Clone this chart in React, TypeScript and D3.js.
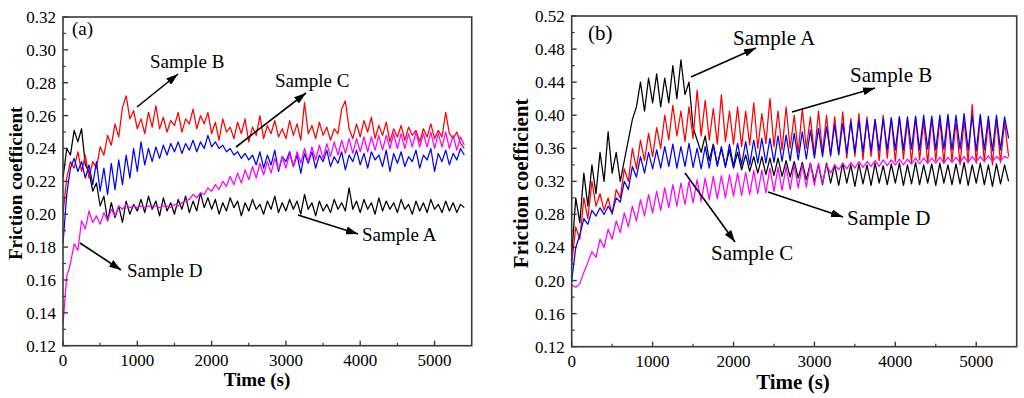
import * as d3 from "d3";

// time axis: one reading every 50 s
const time = d3.range(0, 5401, 50);

// panel (a) friction coefficients
const aSampleA = [0.222, 0.240, 0.236, 0.251, 0.244, 0.252, 0.230, 0.226, 0.214, 0.219, 0.205, 0.211, 0.196, 0.207, 0.198, 0.205, 0.195, 0.208, 0.200, 0.206,
  0.202, 0.209, 0.201, 0.211, 0.203, 0.208, 0.199, 0.210, 0.202, 0.207, 0.200, 0.209, 0.203, 0.211, 0.201, 0.208, 0.202, 0.213, 0.204, 0.210,
  0.203, 0.209, 0.200, 0.207, 0.202, 0.210, 0.204, 0.208, 0.199, 0.207, 0.202, 0.209, 0.203, 0.206, 0.200, 0.208, 0.203, 0.211, 0.201, 0.207,
  0.202, 0.209, 0.203, 0.208, 0.200, 0.212, 0.203, 0.207, 0.199, 0.208, 0.202, 0.206, 0.201, 0.209, 0.203, 0.207, 0.202, 0.216, 0.203, 0.208,
  0.201, 0.209, 0.203, 0.207, 0.200, 0.210, 0.202, 0.208, 0.203, 0.207, 0.201, 0.209, 0.203, 0.206, 0.200, 0.208, 0.202, 0.207, 0.201, 0.209,
  0.203, 0.206, 0.201, 0.208, 0.202, 0.207, 0.201, 0.206, 0.204];
const aSampleB = [0.200, 0.222, 0.232, 0.228, 0.238, 0.226, 0.236, 0.222, 0.232, 0.228, 0.241, 0.236, 0.248, 0.242, 0.255, 0.247, 0.265, 0.272, 0.258, 0.263,
  0.252, 0.258, 0.249, 0.262, 0.253, 0.266, 0.252, 0.259, 0.250, 0.257, 0.254, 0.262, 0.250, 0.258, 0.255, 0.264, 0.252, 0.260, 0.255, 0.262,
  0.249, 0.256, 0.245, 0.258, 0.250, 0.253, 0.246, 0.256, 0.249, 0.258, 0.244, 0.253, 0.248, 0.260, 0.246, 0.254, 0.249, 0.257, 0.247, 0.252,
  0.246, 0.257, 0.248, 0.255, 0.245, 0.268, 0.249, 0.254, 0.246, 0.256, 0.248, 0.253, 0.245, 0.252, 0.249, 0.264, 0.269, 0.252, 0.246, 0.255,
  0.247, 0.257, 0.250, 0.259, 0.246, 0.254, 0.248, 0.256, 0.244, 0.252, 0.247, 0.254, 0.245, 0.253, 0.248, 0.251, 0.244, 0.252, 0.247, 0.255,
  0.246, 0.251, 0.247, 0.262, 0.249, 0.246, 0.250, 0.243, 0.240];
const aSampleC = [0.182, 0.212, 0.228, 0.234, 0.226, 0.232, 0.222, 0.230, 0.218, 0.232, 0.214, 0.228, 0.212, 0.231, 0.215, 0.233, 0.218, 0.236, 0.222, 0.240,
  0.226, 0.244, 0.230, 0.240, 0.232, 0.241, 0.234, 0.242, 0.236, 0.243, 0.238, 0.244, 0.237, 0.243, 0.239, 0.245, 0.238, 0.244, 0.240, 0.248,
  0.241, 0.244, 0.240, 0.242, 0.238, 0.240, 0.236, 0.238, 0.234, 0.237, 0.233, 0.236, 0.230, 0.238, 0.228, 0.236, 0.230, 0.239, 0.226, 0.235,
  0.232, 0.238, 0.229, 0.236, 0.225, 0.237, 0.231, 0.238, 0.228, 0.236, 0.232, 0.239, 0.229, 0.235, 0.231, 0.238, 0.227, 0.236, 0.232, 0.239,
  0.230, 0.237, 0.228, 0.238, 0.233, 0.236, 0.229, 0.239, 0.226, 0.237, 0.231, 0.238, 0.229, 0.235, 0.232, 0.239, 0.228, 0.236, 0.233, 0.240,
  0.226, 0.237, 0.232, 0.239, 0.230, 0.237, 0.233, 0.240, 0.236];
const aSampleD = [0.133, 0.162, 0.170, 0.182, 0.178, 0.196, 0.191, 0.202, 0.195, 0.199, 0.194, 0.201, 0.196, 0.203, 0.199, 0.205, 0.203, 0.206, 0.204, 0.205,
  0.204, 0.205, 0.204, 0.205, 0.205, 0.205, 0.204, 0.205, 0.205, 0.204, 0.206, 0.205, 0.207, 0.208, 0.209, 0.212, 0.210, 0.213, 0.212, 0.216,
  0.214, 0.218, 0.215, 0.220, 0.217, 0.223, 0.218, 0.225, 0.219, 0.227, 0.221, 0.229, 0.222, 0.231, 0.224, 0.232, 0.225, 0.234, 0.227, 0.235,
  0.228, 0.237, 0.229, 0.238, 0.231, 0.240, 0.232, 0.241, 0.233, 0.242, 0.234, 0.243, 0.235, 0.244, 0.236, 0.245, 0.237, 0.246, 0.237, 0.246,
  0.238, 0.247, 0.238, 0.247, 0.239, 0.248, 0.239, 0.248, 0.240, 0.249, 0.240, 0.249, 0.240, 0.249, 0.241, 0.250, 0.241, 0.249, 0.241, 0.250,
  0.240, 0.249, 0.241, 0.250, 0.240, 0.248, 0.239, 0.247, 0.242];

// panel (b) friction coefficients
const bSampleA = [0.230, 0.300, 0.270, 0.330, 0.290, 0.340, 0.305, 0.355, 0.320, 0.380, 0.330, 0.355, 0.320, 0.345, 0.370, 0.395, 0.410, 0.440, 0.405, 0.445,
  0.415, 0.450, 0.410, 0.445, 0.415, 0.460, 0.420, 0.467, 0.425, 0.440, 0.385, 0.370, 0.355, 0.375, 0.345, 0.365, 0.340, 0.360, 0.338, 0.358,
  0.336, 0.355, 0.334, 0.352, 0.332, 0.350, 0.330, 0.350, 0.328, 0.348, 0.327, 0.348, 0.326, 0.345, 0.325, 0.344, 0.324, 0.343, 0.322, 0.342,
  0.320, 0.340, 0.316, 0.342, 0.318, 0.340, 0.315, 0.342, 0.318, 0.340, 0.314, 0.341, 0.317, 0.340, 0.315, 0.342, 0.318, 0.339, 0.316, 0.341,
  0.318, 0.342, 0.315, 0.340, 0.317, 0.343, 0.316, 0.340, 0.318, 0.341, 0.315, 0.342, 0.318, 0.340, 0.316, 0.341, 0.317, 0.343, 0.315, 0.340,
  0.318, 0.342, 0.316, 0.340, 0.314, 0.341, 0.317, 0.340, 0.320];
const bSampleB = [0.220, 0.265, 0.250, 0.300, 0.275, 0.320, 0.290, 0.305, 0.285, 0.300, 0.280, 0.310, 0.300, 0.335, 0.320, 0.360, 0.335, 0.370, 0.345, 0.378,
  0.350, 0.385, 0.360, 0.400, 0.370, 0.412, 0.375, 0.405, 0.368, 0.410, 0.372, 0.430, 0.375, 0.418, 0.370, 0.408, 0.365, 0.425, 0.368, 0.405,
  0.365, 0.410, 0.362, 0.405, 0.364, 0.415, 0.360, 0.402, 0.366, 0.420, 0.362, 0.405, 0.358, 0.410, 0.360, 0.400, 0.355, 0.408, 0.360, 0.398,
  0.352, 0.405, 0.355, 0.400, 0.350, 0.398, 0.352, 0.404, 0.348, 0.396, 0.350, 0.402, 0.346, 0.398, 0.350, 0.395, 0.345, 0.400, 0.348, 0.396,
  0.344, 0.398, 0.347, 0.394, 0.343, 0.397, 0.346, 0.393, 0.342, 0.396, 0.345, 0.395, 0.342, 0.398, 0.344, 0.392, 0.340, 0.394, 0.343, 0.413,
  0.342, 0.398, 0.344, 0.393, 0.340, 0.395, 0.343, 0.392, 0.350];
const bSampleC = [0.200, 0.240, 0.255, 0.275, 0.268, 0.285, 0.278, 0.288, 0.280, 0.290, 0.282, 0.300, 0.295, 0.320, 0.310, 0.338, 0.325, 0.350, 0.330, 0.355,
  0.335, 0.358, 0.336, 0.362, 0.338, 0.365, 0.336, 0.362, 0.338, 0.366, 0.337, 0.360, 0.335, 0.362, 0.336, 0.364, 0.338, 0.362, 0.337, 0.365,
  0.338, 0.366, 0.340, 0.368, 0.340, 0.370, 0.342, 0.372, 0.342, 0.372, 0.343, 0.375, 0.344, 0.376, 0.345, 0.378, 0.346, 0.380, 0.347, 0.382,
  0.348, 0.384, 0.350, 0.386, 0.352, 0.388, 0.353, 0.390, 0.354, 0.392, 0.355, 0.393, 0.356, 0.394, 0.357, 0.395, 0.357, 0.396, 0.358, 0.397,
  0.358, 0.398, 0.358, 0.398, 0.359, 0.399, 0.358, 0.400, 0.359, 0.399, 0.358, 0.400, 0.359, 0.401, 0.358, 0.400, 0.359, 0.402, 0.358, 0.400,
  0.357, 0.401, 0.358, 0.399, 0.357, 0.400, 0.358, 0.398, 0.372];
const bSampleD = [0.195, 0.192, 0.196, 0.210, 0.222, 0.235, 0.228, 0.250, 0.240, 0.262, 0.250, 0.272, 0.258, 0.282, 0.265, 0.290, 0.272, 0.298, 0.278, 0.304,
  0.282, 0.308, 0.285, 0.312, 0.288, 0.316, 0.290, 0.318, 0.292, 0.320, 0.294, 0.322, 0.296, 0.324, 0.298, 0.326, 0.299, 0.327, 0.300, 0.328,
  0.302, 0.330, 0.303, 0.331, 0.304, 0.333, 0.305, 0.334, 0.306, 0.336, 0.308, 0.337, 0.309, 0.338, 0.310, 0.340, 0.312, 0.340, 0.313, 0.342,
  0.315, 0.342, 0.318, 0.340, 0.330, 0.340, 0.334, 0.342, 0.335, 0.343, 0.336, 0.344, 0.337, 0.344, 0.338, 0.345, 0.338, 0.346, 0.339, 0.346,
  0.340, 0.347, 0.340, 0.347, 0.341, 0.348, 0.341, 0.348, 0.342, 0.348, 0.342, 0.349, 0.342, 0.349, 0.343, 0.349, 0.343, 0.350, 0.343, 0.350,
  0.344, 0.350, 0.344, 0.351, 0.344, 0.350, 0.345, 0.350, 0.348];

// tick labels
const xTicks = [0, 1000, 2000, 3000, 4000, 5000];
const aYTicks = [0.12, 0.14, 0.16, 0.18, 0.2, 0.22, 0.24, 0.26, 0.28, 0.3, 0.32];
const bYTicks = [0.12, 0.16, 0.2, 0.24, 0.28, 0.32, 0.36, 0.4, 0.44, 0.48, 0.52];

const seriesColors = ["#000000", "#ff0000", "#0000ff", "#ff00ff"];

const FONT = "'Liberation Serif', 'Times New Roman', serif";

type Note = { text: string; x: number; y: number; from: [number, number]; to: [number, number] };

const Panel = (props: any) => {
  const { left, right, top, bottom, yTicks, series, tag, tagPos, notes, noteSize, titleSize, yTitleX, xTitleX, xTitleY } = props;
  const x = d3.scaleLinear().domain([0, 5500]).range([left, right]);
  const y = d3.scaleLinear().domain([yTicks[0], yTicks[yTicks.length - 1]]).range([bottom, top]);
  const line = d3
    .line<number>()
    .x((d, i) => x(time[i]))
    .y((d) => y(d));
  // minor ticks half way between the labelled ones
  const xMinor = d3.pairs(xTicks).map(([a, b]) => (a + b) / 2).concat([5500]).filter((v) => v < 5500);
  const yMinor = d3.pairs(yTicks).map(([a, b]: any) => (a + b) / 2);
  const axisColor = "#3a3a3a";

  return (
    <g>
      <defs>
        <clipPath id={"clip" + tag}>
          <rect x={left} y={top} width={right - left} height={bottom - top} />
        </clipPath>
      </defs>
      <g clipPath={`url(#clip${tag})`}>
        {series.map((s: number[], i: number) => (
          <path key={i} d={line(s) || ""} fill="none" stroke={seriesColors[i]} strokeWidth={1.25} strokeLinejoin="round" />
        ))}
      </g>
      <rect x={left} y={top} width={right - left} height={bottom - top} fill="none" stroke={axisColor} strokeWidth={1.6} />
      {yTicks.map((t: number) => (
        <g key={"y" + t}>
          <line x1={left} x2={left + 5} y1={y(t)} y2={y(t)} stroke={axisColor} strokeWidth={1.4} />
          <text x={left - 7} y={y(t)} dy="0.35em" textAnchor="end" fontSize={17} fontFamily={FONT}>
            {t.toFixed(2)}
          </text>
        </g>
      ))}
      {yMinor.map((t: number) => (
        <line key={"ym" + t} x1={left} x2={left + 3} y1={y(t)} y2={y(t)} stroke={axisColor} strokeWidth={1.2} />
      ))}
      {xTicks.map((t) => (
        <g key={"x" + t}>
          <line x1={x(t)} x2={x(t)} y1={bottom} y2={bottom - 5} stroke={axisColor} strokeWidth={1.4} />
          <text x={x(t)} y={bottom + 20} textAnchor="middle" fontSize={17} fontFamily={FONT}>
            {t}
          </text>
        </g>
      ))}
      {xMinor.map((t) => (
        <line key={"xm" + t} x1={x(t)} x2={x(t)} y1={bottom} y2={bottom - 3} stroke={axisColor} strokeWidth={1.2} />
      ))}
      <text
        transform={`translate(${yTitleX},${(top + bottom) / 2 + 2}) rotate(-90)`}
        textAnchor="middle"
        dy="0.35em"
        fontSize={titleSize}
        fontWeight="bold"
        fontFamily={FONT}
      >
        Friction coefficient
      </text>
      <text x={xTitleX} y={xTitleY} textAnchor="middle" fontSize={titleSize} fontWeight="bold" fontFamily={FONT}>
        Time (s)
      </text>
      <text x={tagPos[0]} y={tagPos[1]} fontSize={noteSize} fontFamily={FONT}>
        ({tag})
      </text>
      {notes.map((n: Note) => (
        <g key={n.text}>
          <line x1={n.from[0]} y1={n.from[1]} x2={n.to[0]} y2={n.to[1]} stroke="#000" strokeWidth={1.6} markerEnd="url(#arrow)" />
          <text x={n.x} y={n.y} fontSize={noteSize} fontFamily={FONT}>
            {n.text}
          </text>
        </g>
      ))}
    </g>
  );
};

export default function App() {
  const notesA: Note[] = [
    { text: "Sample B", x: 150, y: 68, from: [137, 107], to: [178, 74] },
    { text: "Sample C", x: 275, y: 87, from: [236, 147], to: [306, 93] },
    { text: "Sample A", x: 362, y: 241, from: [298, 215], to: [358, 234] },
    { text: "Sample D", x: 127, y: 277, from: [80, 243], to: [121, 270] },
  ];
  const notesB: Note[] = [
    { text: "Sample A", x: 733, y: 45, from: [691, 77], to: [756, 48] },
    { text: "Sample B", x: 850, y: 82, from: [792, 112], to: [875, 88] },
    { text: "Sample C", x: 711, y: 260, from: [685, 173], to: [735, 242] },
    { text: "Sample D", x: 847, y: 225, from: [768, 192], to: [843, 217] },
  ];
  return (
    <svg
      width={1024}
      height={398}
      style={{ position: "absolute", left: 0, top: 0, background: "#fff" }}
    >
      <defs>
        <marker id="arrow" viewBox="0 0 12 8" refX={12} refY={4} markerWidth={12} markerHeight={8} markerUnits="userSpaceOnUse" orient="auto">
          <path d="M0,0 L12,4 L0,8 Z" fill="#000" />
        </marker>
      </defs>
      <Panel
        left={63}
        right={471.7}
        top={17}
        bottom={345.7}
        yTicks={aYTicks}
        series={[aSampleA, aSampleB, aSampleC, aSampleD]}
        tag="a"
        tagPos={[72, 35]}
        notes={notesA}
        noteSize={19}
        titleSize={19}
        yTitleX={15}
        xTitleX={257}
        xTitleY={386}
      />
      <Panel
        left={571.7}
        right={1016.7}
        top={16}
        bottom={346.7}
        yTicks={bYTicks}
        series={[bSampleA, bSampleB, bSampleC, bSampleD]}
        tag="b"
        tagPos={[588, 40]}
        notes={notesB}
        noteSize={21}
        titleSize={21}
        yTitleX={521}
        xTitleX={793}
        xTitleY={389}
      />
    </svg>
  );
}
